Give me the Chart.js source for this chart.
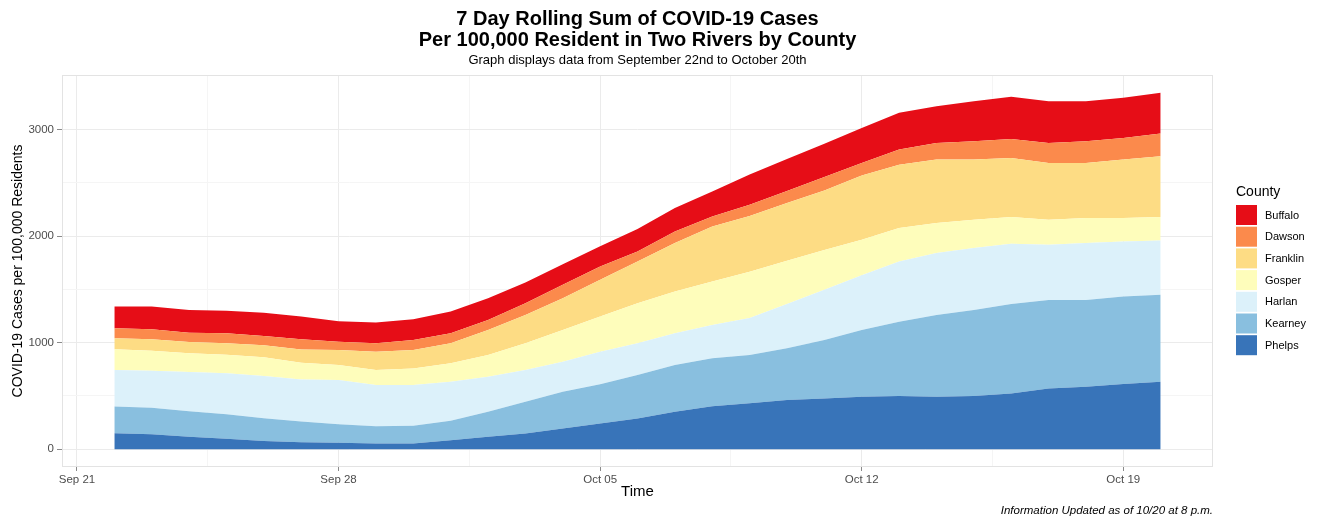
<!DOCTYPE html>
<html>
<head>
<meta charset="utf-8">
<script src="https://cdn.jsdelivr.net/npm/chart.js@4.4.0/dist/chart.umd.min.js"></script>
<style>
html, body { margin: 0; padding: 0; background: #fff; }
</style>
</head>
<body>
<canvas id="area_cases" width="1322" height="520"></canvas>
<script>
// days since Sep 21 (x positions) and their dates
var dayIndex = [1, 2, 3, 4, 5, 6, 7, 8, 9, 10, 11, 12, 13, 14, 15, 16, 17, 18, 19, 20, 21, 22, 23, 24, 25, 26, 27, 28, 29];
var dayLabels = ['Sep 22', 'Sep 23', 'Sep 24', 'Sep 25', 'Sep 26', 'Sep 27', 'Sep 28', 'Sep 29', 'Sep 30',
    'Oct 01', 'Oct 02', 'Oct 03', 'Oct 04', 'Oct 05', 'Oct 06', 'Oct 07', 'Oct 08', 'Oct 09', 'Oct 10',
    'Oct 11', 'Oct 12', 'Oct 13', 'Oct 14', 'Oct 15', 'Oct 16', 'Oct 17', 'Oct 18', 'Oct 19', 'Oct 20'];

// x axis ticks (major + minor) and labels
var xTickDays = [0, 3.5, 7, 10.5, 14, 17.5, 21, 24.5, 28];
var xTickLabels = ['Sep 21', '', 'Sep 28', '', 'Oct 05', '', 'Oct 12', '', 'Oct 19'];
var yTicks = [0, 500, 1000, 1500, 2000, 2500, 3000];
var yTickLabels = ['0', '', '1000', '', '2000', '', '3000'];

var counties = ['Buffalo', 'Dawson', 'Franklin', 'Gosper', 'Harlan', 'Kearney', 'Phelps'];
var countyColors = ['#e60d17', '#fb8a4c', '#fddc84', '#fefdbb', '#dcf1fa', '#89bfdf', '#3874b9'];

// cases per 100,000, one value per day
var phelps = [150, 141, 116, 97, 78, 66, 60, 53, 53, 85, 116, 147, 194, 241, 289, 351, 404, 430, 461, 476, 492, 498, 492, 498, 523, 570, 586, 611, 633];
var kearney = [250, 247, 241, 232, 213, 194, 175, 163, 166, 181, 235, 298, 345, 369, 407, 439, 449, 454, 486, 549, 627, 699, 768, 809, 840, 831, 815, 821, 815];
var harlan = [343, 348, 367, 383, 395, 395, 414, 386, 383, 367, 329, 298, 282, 305, 298, 298, 313, 347, 416, 472, 514, 564, 580, 580, 564, 517, 533, 517, 510];
var gosper = [194, 188, 176, 175, 176, 156, 141, 141, 156, 173, 204, 251, 298, 329, 376, 391, 407, 433, 404, 371, 332, 314, 282, 266, 251, 235, 235, 220, 220];
var franklin = [103, 107, 106, 107, 113, 125, 141, 172, 173, 188, 235, 266, 297, 345, 391, 455, 517, 523, 542, 560, 604, 595, 595, 564, 555, 533, 517, 548, 570];
var dawson = [94, 94, 87, 94, 87, 95, 78, 79, 94, 94, 94, 110, 126, 125, 94, 109, 94, 107, 113, 126, 117, 141, 157, 172, 178, 188, 203, 204, 213];
var buffalo = [204, 213, 214, 212, 219, 213, 191, 194, 194, 203, 203, 195, 193, 191, 210, 220, 235, 284, 301, 313, 328, 345, 344, 376, 395, 391, 376, 376, 383];

var seriesValues = {
    Buffalo: buffalo, Dawson: dawson, Franklin: franklin, Gosper: gosper,
    Harlan: harlan, Kearney: kearney, Phelps: phelps
};

function points(vals) {
    return dayIndex.map(function (d, i) { return { x: d, y: vals[i] }; });
}

// bottom of the stack first: Phelps ... Buffalo
var datasets = [];
for (var i = counties.length - 1; i >= 0; i--) {
    datasets.push({
        label: counties[i],
        data: points(seriesValues[counties[i]]),
        backgroundColor: countyColors[i],
        borderWidth: 0,
        pointRadius: 0,
        fill: datasets.length == 0 ? 'origin' : '-1',
        tension: 0
    });
}

var FONT = "'Liberation Sans', Arial, sans-serif";

var decorations = {
    id: 'decorations',
    afterDraw: function (chart) {
        var ctx = chart.ctx;
        var a = chart.chartArea;
        var cx = (a.left + a.right) / 2;
        ctx.save();
        // panel border
        ctx.strokeStyle = '#e3e3e3';
        ctx.lineWidth = 1;
        ctx.strokeRect(a.left + 0.5, a.top + 0.5, a.right - a.left - 1, a.bottom - a.top - 1);

        // titles
        ctx.fillStyle = '#000';
        ctx.textAlign = 'center';
        ctx.textBaseline = 'middle';
        ctx.font = 'bold 20px ' + FONT;
        ctx.fillText('7 Day Rolling Sum of COVID-19 Cases', cx, 19);
        ctx.fillText('Per 100,000 Resident in Two Rivers by County', cx, 40);
        ctx.font = '13px ' + FONT;
        ctx.fillText('Graph displays data from September 22nd to October 20th', cx, 60);

        // caption
        ctx.textAlign = 'right';
        ctx.font = 'italic 11.5px ' + FONT;
        ctx.fillText('Information Updated as of 10/20 at 8 p.m.', a.right, 511);

        // legend, Buffalo on top
        var lx = 1236, ly = 205;
        ctx.textAlign = 'left';
        ctx.font = '14px ' + FONT;
        ctx.fillText('County', lx, 192);
        ctx.font = '11px ' + FONT;
        for (var k = 0; k < counties.length; k++) {
            var ds = chart.data.datasets.find(function (d) { return d.label == counties[k]; });
            ctx.fillStyle = ds.backgroundColor;
            ctx.fillRect(lx, ly + k * 21.7, 21, 20);
            ctx.fillStyle = '#000';
            ctx.fillText(counties[k], lx + 29, ly + k * 21.7 + 10.5);
        }
        ctx.restore();
    }
};

new Chart(document.getElementById('area_cases').getContext('2d'), {
    type: 'line',
    data: { datasets: datasets },
    options: {
        responsive: false,
        animation: false,
        events: [],
        layout: { padding: { left: 10, right: 109, top: 75, bottom: 19 } },
        plugins: {
            legend: { display: false },
            tooltip: { enabled: false }
        },
        scales: {
            x: {
                type: 'linear',
                min: -0.4,
                max: 30.4,
                afterBuildTicks: function (s) {
                    s.ticks = xTickDays.map(function (v) { return { value: v }; });
                },
                afterFit: function (s) { s.height = 34; },
                border: { display: false },
                grid: {
                    color: function (c) { return c.tick && xTickLabels[xTickDays.indexOf(c.tick.value)] ? '#ebebeb' : '#f5f5f5'; },
                    tickColor: function (c) { return c.tick && xTickLabels[xTickDays.indexOf(c.tick.value)] ? '#8a8a8a' : 'rgba(0,0,0,0)'; },
                    tickLength: 4
                },
                ticks: {
                    autoSkip: false,
                    maxRotation: 0,
                    padding: 2,
                    color: '#4d4d4d',
                    font: { family: FONT, size: 11.5 },
                    callback: function (v) { return xTickLabels[xTickDays.indexOf(v)]; }
                },
                title: {
                    display: true,
                    text: 'Time',
                    color: '#000',
                    padding: 0,
                    font: { family: FONT, size: 15 }
                }
            },
            y: {
                stacked: true,
                min: -167,
                max: 3511,
                afterBuildTicks: function (s) {
                    s.ticks = yTicks.map(function (v) { return { value: v }; });
                },
                afterFit: function (s) { s.width = 52; },
                border: { display: false },
                grid: {
                    color: function (c) { return c.tick && yTickLabels[yTicks.indexOf(c.tick.value)] ? '#ebebeb' : '#f5f5f5'; },
                    tickColor: function (c) { return c.tick && yTickLabels[yTicks.indexOf(c.tick.value)] ? '#8a8a8a' : 'rgba(0,0,0,0)'; },
                    tickLength: 5
                },
                ticks: {
                    padding: 3,
                    color: '#4d4d4d',
                    font: { family: FONT, size: 11.5 },
                    callback: function (v) { return yTickLabels[yTicks.indexOf(v)]; }
                },
                title: {
                    display: true,
                    text: 'COVID-19 Cases per 100,000 Residents',
                    color: '#000',
                    padding: 0,
                    font: { family: FONT, size: 14 }
                }
            }
        }
    },
    plugins: [decorations]
});
</script>
</body>
</html>
